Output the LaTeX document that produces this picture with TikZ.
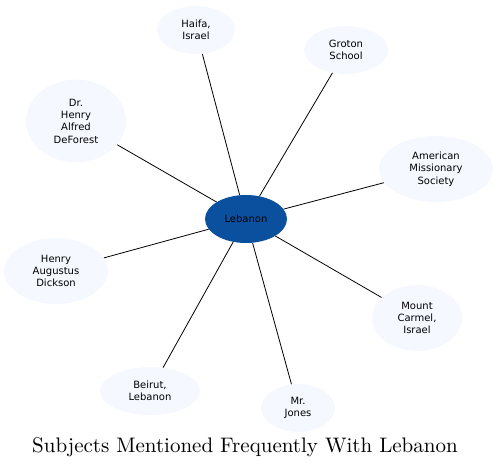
\documentclass[tikz,border=0pt]{standalone}
\usepackage{fontspec}
\newfontfamily\nodefont{DejaVu Sans}
\newfontfamily\titlefont{lmroman10-regular.otf}
\usetikzlibrary{shapes.geometric}
\definecolor{hub}{RGB}{10,80,158}
\definecolor{leaf}{RGB}{245,249,255}
\tikzset{
  subj/.style={ellipse, fill=leaf, draw=none, inner sep=0pt, align=center,
    font=\nodefont\fontsize{10}{12.3}\selectfont},
  hubnode/.style={subj, fill=hub},
  link/.style={draw=black, line width=0.8pt}
}
\begin{document}
\begin{tikzpicture}[x=1pt,y=-1pt]
\useasboundingbox (0,0) rectangle (499,470);
\node[hubnode, minimum width=82pt, minimum height=48pt] (leb) at (246,219) {Lebanon};
\node[subj, minimum width=78pt, minimum height=48pt] (haifa) at (196,30) {Haifa,\\Israel};
\node[subj, minimum width=84pt, minimum height=48pt] (groton) at (346,50) {Groton\\School};
\node[subj, minimum width=100pt, minimum height=83pt] (defor) at (76,121) {Dr.\\Henry\\Alfred\\DeForest};
\node[subj, minimum width=114pt, minimum height=66pt] (ams) at (436,169) {American\\Missionary\\Society};
\node[subj, minimum width=104pt, minimum height=66pt] (dick) at (56,271) {Henry\\Augustus\\Dickson};
\node[subj, minimum width=90pt, minimum height=66pt] (carmel) at (417,318) {Mount\\Carmel,\\Israel};
\node[subj, minimum width=100pt, minimum height=48pt] (beirut) at (150,391) {Beirut,\\Lebanon};
\node[subj, minimum width=74pt, minimum height=48pt] (jones) at (298,408) {Mr.\\Jones};
\node[font=\titlefont\fontsize{21}{25}\selectfont] (title) at (245,447) {Subjects Mentioned Frequently With Lebanon};
\foreach \n in {haifa,groton,defor,ams,dick,carmel,beirut,jones}
  \draw[link] (leb) -- (\n);
\end{tikzpicture}
\end{document}
